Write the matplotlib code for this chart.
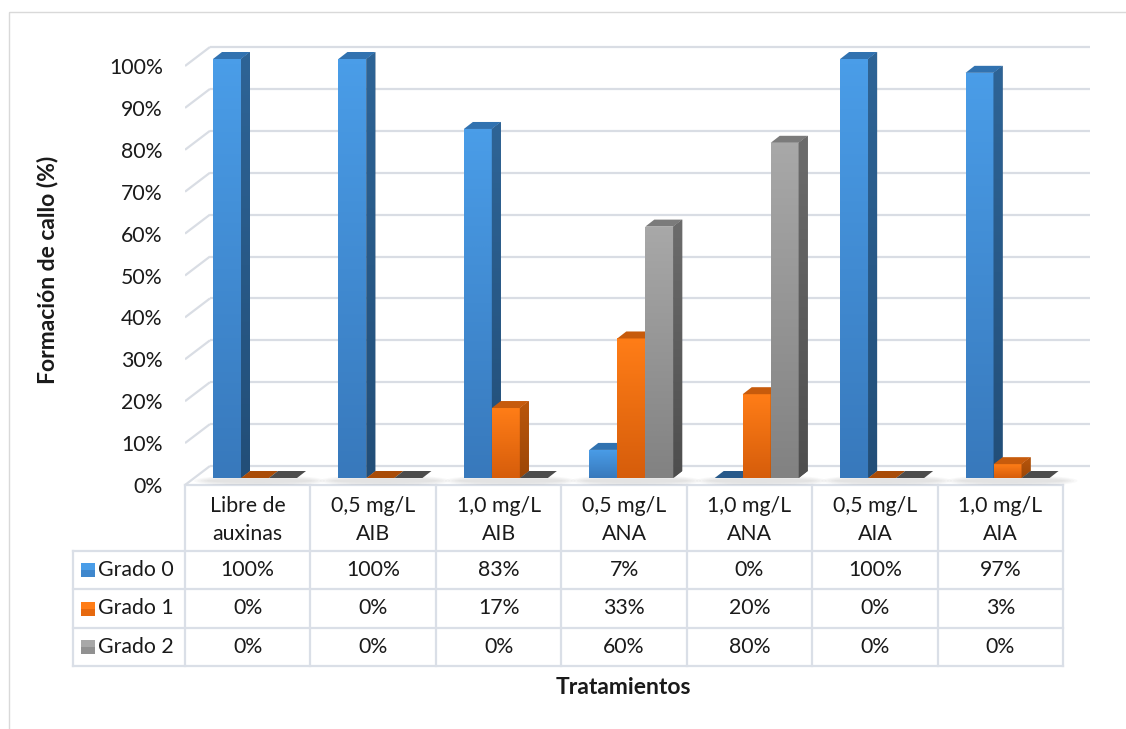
import numpy as np
import matplotlib.pyplot as plt
from matplotlib.patches import Polygon, Rectangle, Ellipse
from matplotlib.colors import LinearSegmentedColormap

plt.rcParams['font.family'] = ['Lato', 'DejaVu Sans']

# datos: porcentaje de explantes por grado de formación de callo
tratamientos = ["Libre de\nauxinas", "0,5 mg/L\nAIB", "1,0 mg/L\nAIB", "0,5 mg/L\nANA",
                "1,0 mg/L\nANA", "0,5 mg/L\nAIA", "1,0 mg/L\nAIA"]
grados = ["Grado 0", "Grado 1", "Grado 2"]
grado0 = [100, 100, 83.3, 6.7, 0, 100, 96.7]
grado1 = [0, 0, 16.7, 33.3, 20, 0, 3.3]
grado2 = [0, 0, 0, 60, 80, 0, 0]
yticks = list(range(0, 101, 10))

W, H = 1126, 729
fig = plt.figure(figsize=(W / 100, H / 100), dpi=100)
fs = 15.3

# geometria del area de grafico (pixeles)
col_w = 125.43
px_y = 4.19
x0, x1, yb, yt = 185, 1090, 485, 40
ax = fig.add_axes([x0 / W, 1 - yb / H, (x1 - x0) / W, (yb - yt) / H])
xmax = (x1 - x0) / col_w
ymax = (yb - yt) / px_y

wx, wy = 25 / col_w, 19 / px_y   # profundidad de las paredes
bx, by = 9 / col_w, 7 / px_y     # profundidad de las barras
bw = 28 / col_w                  # ancho de cada barra

# lineas de division (pared lateral + pared del fondo)
for t in yticks:
    ax.plot([0, wx], [t, t + wy], color='#D9DDE4', lw=1.6, zorder=1, solid_capstyle='butt')
    ax.plot([wx, xmax], [t + wy, t + wy], color='#D9DDE4', lw=1.6, zorder=1, solid_capstyle='butt')

# colores: frente arriba, frente abajo, lado arriba, lado abajo, tapa, tapa de barra en cero
estilos = [
    ('#4A9DE8', '#3879BC', '#2E6496', '#224E78', '#3172B0', '#28598A'),
    ('#FF7D17', '#D65D0B', '#B9560B', '#9C4707', '#C75B0C', '#A94C08'),
    ('#A8A8A8', '#828282', '#6C6C6C', '#4E4E4E', '#7B7B7B', '#4C4C4C'),
]
series = [grado0, grado1, grado2]
grad = np.linspace(0, 1, 64).reshape(-1, 1)

z = 10
for i in range(len(tratamientos)):
    # sombra difusa bajo el grupo
    gl = i + bw
    gr = i + 4 * bw + bx
    for s in range(5):
        ax.add_patch(Ellipse(((gl + gr) / 2, by * 0.6), (gr - gl) + 0.1 + s * 0.05, 1.0 + s * 0.45,
                             color='#7F7F7F', alpha=0.045, lw=0, zorder=5))
    for k, vals in enumerate(series):
        c = estilos[k]
        v = vals[i]
        left = i + (k + 1) * bw
        right = left + bw
        top = by + v
        z += 3
        if v > 0:
            bar = ax.bar(left, v, width=bw, bottom=by, align='edge', color=c[1], lw=0, zorder=z)[0]
            cm = LinearSegmentedColormap.from_list('f', [c[1], c[0]])
            im = ax.imshow(grad, extent=[left, right, by, top], origin='lower', aspect='auto',
                           cmap=cm, zorder=z, interpolation='bilinear')
            im.set_clip_path(bar)
            side = Polygon([(right, by), (right, top), (right + bx, top + by), (right + bx, 2 * by)],
                           closed=True, fc=c[3], lw=0, zorder=z + 1)
            ax.add_patch(side)
            cs = LinearSegmentedColormap.from_list('s', [c[3], c[2]])
            ims = ax.imshow(grad, extent=[right, right + bx, by, top + by], origin='lower',
                            aspect='auto', cmap=cs, zorder=z + 1, interpolation='bilinear')
            ims.set_clip_path(side)
            tc = c[4]
        else:
            tc = c[5]
        ax.add_patch(Polygon([(left, top), (right, top), (right + bx, top + by), (left + bx, top + by)],
                             closed=True, fc=tc, lw=0, zorder=z + 2))

ax.set_xlim(0, xmax)
ax.set_ylim(0, ymax)
ax.set_yticks(yticks)
ax.set_yticklabels([f"{t}%" for t in yticks], fontsize=fs, color='#1A1A1A')
ax.set_xticks([])
ax.tick_params(axis='y', length=0, pad=16)
for sp in ax.spines.values():
    sp.set_visible(False)
ax.patch.set_alpha(0)

# tabla de datos y rotulos (coordenadas en pixeles)
tab = fig.add_axes([0, 0, 1, 1], zorder=-1)
tab.set_xlim(0, W)
tab.set_ylim(H, 0)
tab.axis('off')

tab.add_patch(Rectangle((8.5, 11.5), 1300, 900, fill=False, ec='#D9D9D9', lw=1))

lc = '#DADFE7'
cols = [x0 + i * col_w for i in range(len(tratamientos) + 1)]
rows = [485, 551, 589, 628, 666]
tab.plot([cols[0], cols[-1]], [rows[0], rows[0]], color=lc, lw=1.6)
for yy in rows[1:]:
    tab.plot([73, cols[-1]], [yy, yy], color=lc, lw=1.6)
for cx in cols:
    tab.plot([cx, cx], [rows[0], rows[-1]], color=lc, lw=1.6)
tab.plot([73, 73], [rows[1], rows[-1]], color=lc, lw=1.6)

for i, nombre in enumerate(tratamientos):
    cx = (cols[i] + cols[i + 1]) / 2
    tab.text(cx, 520, nombre, ha='center', va='center', fontsize=fs, linespacing=1.45, color='#1A1A1A')
    for r, vals in enumerate(series):
        cy = (rows[r + 1] + rows[r + 2]) / 2
        tab.text(cx, cy, f"{vals[i]:.0f}%", ha='center', va='center', fontsize=fs, color='#1A1A1A')

for r, g in enumerate(grados):
    cy = (rows[r + 1] + rows[r + 2]) / 2
    tab.add_patch(Rectangle((81, cy - 7), 14, 14, fc=estilos[r][0], ec='none'))
    tab.add_patch(Rectangle((81, cy), 14, 7, fc=estilos[r][1], ec='none', alpha=0.6))
    tab.text(98, cy, g, ha='left', va='center', fontsize=fs, color='#1A1A1A')

tab.text(623, 687, "Tratamientos", ha='center', va='center', fontsize=16.5, fontweight='bold', color='#1A1A1A')
tab.text(48, 270, "Formación de callo (%)", ha='center', va='center', rotation=90,
         fontsize=16.5, fontweight='bold', color='#1A1A1A')

fig.savefig('out.png', dpi=100)
